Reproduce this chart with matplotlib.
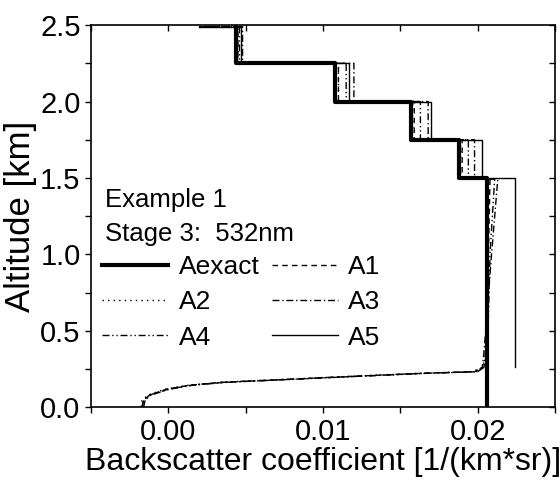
import numpy as np
import matplotlib.pyplot as plt
from matplotlib.ticker import MultipleLocator, FormatStrFormatter

plt.rcParams['font.family'] = ['Liberation Sans', 'DejaVu Sans']

# layer tops [km] for the stepped part of the profiles
layer_z = [1.5, 1.75, 2.0, 2.25, 2.49]
tail_x = 0.0020

# exact profile: value of each layer from the ground up
aexact_vals = [0.0206, 0.0188, 0.0157, 0.0108, 0.0044]

# A5 starts at 0.26 km
a5_bottom = 0.26
a5_vals = [0.0224, 0.0203, 0.0170, 0.0117, 0.0047]

# retrieved profiles A1-A4 below 1.5 km (near-ground overshoot)
ground_z = [0.0, 0.046, 0.08, 0.118, 0.144, 0.163, 0.183, 0.203, 0.222, 0.232, 0.26, 0.35, 0.6, 1.0, 1.49]
a1_low = [-0.0017, -0.0016, -0.0012, -0.0001, 0.0014, 0.0035, 0.0079, 0.0122, 0.0165, 0.0198, 0.0204, 0.0206, 0.0206, 0.0207, 0.0208]
a2_low = [-0.0018, -0.0017, -0.0013, -0.0002, 0.0013, 0.0034, 0.0077, 0.0120, 0.0163, 0.0196, 0.0203, 0.0206, 0.0206, 0.0206, 0.0207]
a3_low = [-0.0017, -0.0016, -0.0012, 0.0000, 0.0015, 0.0037, 0.0081, 0.0124, 0.0167, 0.0199, 0.0203, 0.0204, 0.0206, 0.0209, 0.0213]
a4_low = [-0.0016, -0.0015, -0.0011, 0.0001, 0.0016, 0.0038, 0.0082, 0.0125, 0.0168, 0.0200, 0.0204, 0.0205, 0.0207, 0.0208, 0.0211]

# retrieved layers 1.5-1.75, 1.75-2.0, 2.0-2.25, 2.25-2.49
a1_up = [0.0190, 0.0159, 0.0110, 0.0045]
a2_up = [0.0189, 0.0158, 0.0110, 0.0045]
a3_up = [0.0198, 0.0168, 0.0120, 0.0048]
a4_up = [0.0194, 0.0163, 0.0115, 0.0046]


def step_profile(vals, z0, tops, tail=None):
    xs, zs = [], []
    lo = z0
    for v, hi in zip(vals, tops):
        xs += [v, v]
        zs += [lo, hi]
        lo = hi
    if tail is not None:
        xs.append(tail)
        zs.append(tops[-1])
    return xs, zs


def retrieved(low, up):
    xs = list(low)
    zs = list(ground_z)
    sx, sz = step_profile(up, layer_z[0], layer_z[1:], tail_x)
    return xs + sx, zs + sz


fig = plt.figure(figsize=(5.6, 4.83), dpi=100)
ax = fig.add_axes([0.1625, 0.157, 0.8285, 0.791])

x, z = step_profile(aexact_vals, 0.0, layer_z)
ax.plot(x, z, color='black', lw=3.0, ls='-', label='Aexact')

styles = {
    'A1': (a1_low, a1_up, (0, (4, 3))),
    'A2': (a2_low, a2_up, (0, (1, 3))),
    'A3': (a3_low, a3_up, (0, (5, 2, 1, 2))),
    'A4': (a4_low, a4_up, (0, (5, 2, 1, 2, 1, 2))),
}
for name, (low, up, dash) in styles.items():
    x, z = retrieved(low, up)
    ax.plot(x, z, color='black', lw=1.0, ls=dash, label=name)

x, z = step_profile(a5_vals, a5_bottom, layer_z, tail_x)
ax.plot(x, z, color='black', lw=1.0, ls='-', label='A5')

ax.set_xlim(-0.005, 0.025)
ax.set_ylim(0.0, 2.5)
ax.xaxis.set_major_locator(MultipleLocator(0.01))
ax.xaxis.set_minor_locator(MultipleLocator(0.005))
ax.yaxis.set_major_locator(MultipleLocator(0.5))
ax.yaxis.set_minor_locator(MultipleLocator(0.25))
ax.xaxis.set_major_formatter(FormatStrFormatter('%.2f'))
ax.yaxis.set_major_formatter(FormatStrFormatter('%.1f'))

for s in ax.spines.values():
    s.set_linewidth(1.2)
ax.tick_params(which='both', direction='out', length=4.5, width=1.0, labelsize=21, pad=3)
ax.tick_params(which='both', top=True, right=True)
# mirrored ticks on top/right point inward
for t in ax.xaxis.get_ticklines(minor=False)[1::2] + ax.xaxis.get_ticklines(minor=True)[1::2]:
    t.set_marker(3)
for t in ax.yaxis.get_ticklines(minor=False)[1::2] + ax.yaxis.get_ticklines(minor=True)[1::2]:
    t.set_marker(0)

ax.set_xlabel('Backscatter coefficient [1/(km*sr)]', fontsize=23, labelpad=1)
ax.set_ylabel('Altitude [km]', fontsize=25, labelpad=2)

ax.text(0.03, 0.542, 'Example 1', transform=ax.transAxes, fontsize=18.5, va='center')
ax.text(0.03, 0.453, 'Stage 3:  532nm', transform=ax.transAxes, fontsize=18.5, va='center')

handles, labels = ax.get_legend_handles_labels()
order = [0, 2, 4, 1, 3, 5]
ax.legend([handles[i] for i in order], [labels[i] for i in order], ncol=2,
          loc='upper left', bbox_to_anchor=(0.002, 0.425), frameon=False,
          fontsize=19, handlelength=2.5, handletextpad=0.4, columnspacing=0.45,
          labelspacing=0.42, borderaxespad=0.0)

fig.savefig('out.png', dpi=100)
